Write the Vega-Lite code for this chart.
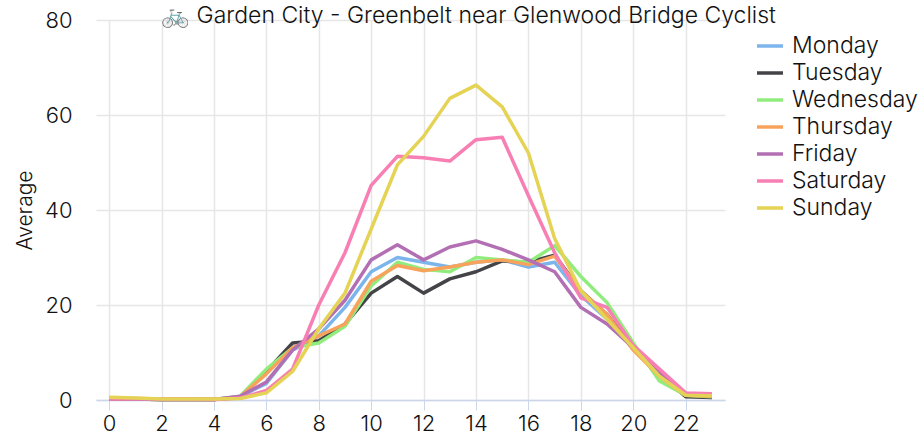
{"$schema":"https://vega.github.io/schema/vega-lite/v6.json","width":629,"height":380,"autosize":"none","padding":{"left":96,"top":20,"right":198,"bottom":35},"background":"white",
"title":{"text":"🚲 Garden City - Greenbelt near Glenwood Bridge Cyclist","font":"Inter","fontSize":23,"fontWeight":300,"color":"#111","anchor":"middle","dx":58,"offset":-30,"baseline":"middle"},
"config":{"view":{"stroke":null},"font":"Inter"},
"data":{"values":[
{"h":0,"d":"Monday","v":0.3},{"h":1,"d":"Monday","v":0.2},{"h":2,"d":"Monday","v":0.1},{"h":3,"d":"Monday","v":0.1},{"h":4,"d":"Monday","v":0.1},{"h":5,"d":"Monday","v":0.7},{"h":6,"d":"Monday","v":3.5},{"h":7,"d":"Monday","v":10.5},{"h":8,"d":"Monday","v":13.5},{"h":9,"d":"Monday","v":19.5},{"h":10,"d":"Monday","v":27},{"h":11,"d":"Monday","v":30},{"h":12,"d":"Monday","v":29},{"h":13,"d":"Monday","v":28},{"h":14,"d":"Monday","v":29},{"h":15,"d":"Monday","v":29.5},{"h":16,"d":"Monday","v":28},{"h":17,"d":"Monday","v":29},{"h":18,"d":"Monday","v":22},{"h":19,"d":"Monday","v":17},{"h":20,"d":"Monday","v":11},{"h":21,"d":"Monday","v":5},{"h":22,"d":"Monday","v":1},{"h":23,"d":"Monday","v":0.5},
{"h":0,"d":"Tuesday","v":0.2},{"h":1,"d":"Tuesday","v":0.2},{"h":2,"d":"Tuesday","v":0.1},{"h":3,"d":"Tuesday","v":0.1},{"h":4,"d":"Tuesday","v":0.1},{"h":5,"d":"Tuesday","v":0.5},{"h":6,"d":"Tuesday","v":6},{"h":7,"d":"Tuesday","v":12},{"h":8,"d":"Tuesday","v":12.5},{"h":9,"d":"Tuesday","v":16},{"h":10,"d":"Tuesday","v":22.5},{"h":11,"d":"Tuesday","v":26},{"h":12,"d":"Tuesday","v":22.5},{"h":13,"d":"Tuesday","v":25.5},{"h":14,"d":"Tuesday","v":27},{"h":15,"d":"Tuesday","v":29.3},{"h":16,"d":"Tuesday","v":29},{"h":17,"d":"Tuesday","v":30.5},{"h":18,"d":"Tuesday","v":23},{"h":19,"d":"Tuesday","v":18},{"h":20,"d":"Tuesday","v":11},{"h":21,"d":"Tuesday","v":5.5},{"h":22,"d":"Tuesday","v":0.7},{"h":23,"d":"Tuesday","v":0.5},
{"h":0,"d":"Wednesday","v":0.2},{"h":1,"d":"Wednesday","v":0.2},{"h":2,"d":"Wednesday","v":0.1},{"h":3,"d":"Wednesday","v":0.1},{"h":4,"d":"Wednesday","v":0.1},{"h":5,"d":"Wednesday","v":0.8},{"h":6,"d":"Wednesday","v":6.5},{"h":7,"d":"Wednesday","v":11},{"h":8,"d":"Wednesday","v":12},{"h":9,"d":"Wednesday","v":15.5},{"h":10,"d":"Wednesday","v":24},{"h":11,"d":"Wednesday","v":29},{"h":12,"d":"Wednesday","v":27.5},{"h":13,"d":"Wednesday","v":27},{"h":14,"d":"Wednesday","v":30},{"h":15,"d":"Wednesday","v":29.5},{"h":16,"d":"Wednesday","v":29},{"h":17,"d":"Wednesday","v":32.5},{"h":18,"d":"Wednesday","v":26},{"h":19,"d":"Wednesday","v":20.5},{"h":20,"d":"Wednesday","v":12},{"h":21,"d":"Wednesday","v":4},{"h":22,"d":"Wednesday","v":1},{"h":23,"d":"Wednesday","v":0.7},
{"h":0,"d":"Thursday","v":0.2},{"h":1,"d":"Thursday","v":0.2},{"h":2,"d":"Thursday","v":0.1},{"h":3,"d":"Thursday","v":0.1},{"h":4,"d":"Thursday","v":0.1},{"h":5,"d":"Thursday","v":0.7},{"h":6,"d":"Thursday","v":5.5},{"h":7,"d":"Thursday","v":11},{"h":8,"d":"Thursday","v":13.5},{"h":9,"d":"Thursday","v":16},{"h":10,"d":"Thursday","v":25},{"h":11,"d":"Thursday","v":28.3},{"h":12,"d":"Thursday","v":27.2},{"h":13,"d":"Thursday","v":28},{"h":14,"d":"Thursday","v":29},{"h":15,"d":"Thursday","v":29.5},{"h":16,"d":"Thursday","v":28.5},{"h":17,"d":"Thursday","v":30.3},{"h":18,"d":"Thursday","v":23},{"h":19,"d":"Thursday","v":18},{"h":20,"d":"Thursday","v":10.5},{"h":21,"d":"Thursday","v":5},{"h":22,"d":"Thursday","v":1},{"h":23,"d":"Thursday","v":0.8},
{"h":0,"d":"Friday","v":0.2},{"h":1,"d":"Friday","v":0.2},{"h":2,"d":"Friday","v":0.1},{"h":3,"d":"Friday","v":0.1},{"h":4,"d":"Friday","v":0.1},{"h":5,"d":"Friday","v":0.8},{"h":6,"d":"Friday","v":3.8},{"h":7,"d":"Friday","v":10.5},{"h":8,"d":"Friday","v":15},{"h":9,"d":"Friday","v":21},{"h":10,"d":"Friday","v":29.5},{"h":11,"d":"Friday","v":32.7},{"h":12,"d":"Friday","v":29.5},{"h":13,"d":"Friday","v":32.2},{"h":14,"d":"Friday","v":33.5},{"h":15,"d":"Friday","v":31.7},{"h":16,"d":"Friday","v":29.5},{"h":17,"d":"Friday","v":27},{"h":18,"d":"Friday","v":19.5},{"h":19,"d":"Friday","v":16},{"h":20,"d":"Friday","v":11},{"h":21,"d":"Friday","v":6},{"h":22,"d":"Friday","v":1.2},{"h":23,"d":"Friday","v":1},
{"h":0,"d":"Saturday","v":0.2},{"h":1,"d":"Saturday","v":0.3},{"h":2,"d":"Saturday","v":0.2},{"h":3,"d":"Saturday","v":0.2},{"h":4,"d":"Saturday","v":0.1},{"h":5,"d":"Saturday","v":0.4},{"h":6,"d":"Saturday","v":2},{"h":7,"d":"Saturday","v":6.5},{"h":8,"d":"Saturday","v":20},{"h":9,"d":"Saturday","v":31},{"h":10,"d":"Saturday","v":45.2},{"h":11,"d":"Saturday","v":51.3},{"h":12,"d":"Saturday","v":51},{"h":13,"d":"Saturday","v":50.3},{"h":14,"d":"Saturday","v":54.8},{"h":15,"d":"Saturday","v":55.3},{"h":16,"d":"Saturday","v":43},{"h":17,"d":"Saturday","v":31},{"h":18,"d":"Saturday","v":21.5},{"h":19,"d":"Saturday","v":19.5},{"h":20,"d":"Saturday","v":11.5},{"h":21,"d":"Saturday","v":6.5},{"h":22,"d":"Saturday","v":1.5},{"h":23,"d":"Saturday","v":1.3},
{"h":0,"d":"Sunday","v":0.6},{"h":1,"d":"Sunday","v":0.4},{"h":2,"d":"Sunday","v":0.2},{"h":3,"d":"Sunday","v":0.2},{"h":4,"d":"Sunday","v":0.2},{"h":5,"d":"Sunday","v":0.3},{"h":6,"d":"Sunday","v":1.5},{"h":7,"d":"Sunday","v":6},{"h":8,"d":"Sunday","v":15},{"h":9,"d":"Sunday","v":22.5},{"h":10,"d":"Sunday","v":36},{"h":11,"d":"Sunday","v":49.5},{"h":12,"d":"Sunday","v":55.5},{"h":13,"d":"Sunday","v":63.5},{"h":14,"d":"Sunday","v":66.3},{"h":15,"d":"Sunday","v":61.7},{"h":16,"d":"Sunday","v":52},{"h":17,"d":"Sunday","v":34},{"h":18,"d":"Sunday","v":23},{"h":19,"d":"Sunday","v":17},{"h":20,"d":"Sunday","v":11},{"h":21,"d":"Sunday","v":5},{"h":22,"d":"Sunday","v":1},{"h":23,"d":"Sunday","v":0.9}
]},
"mark":{"type":"line","strokeWidth":3.5,"strokeJoin":"round"},
"encoding":{
"x":{"field":"h","type":"quantitative","title":null,"scale":{"domain":[-0.5,23.5],"nice":false,"zero":false},"axis":{"values":[0,2,4,6,8,10,12,14,16,18,20,22],"grid":true,"gridColor":"#e6e6e6","gridWidth":1.5,"domainColor":"#ccd6eb","domainWidth":1.5,"tickColor":"#ccd6eb","tickSize":10,"tickWidth":1,"labelFontSize":22,"labelColor":"#111","labelPadding":3,"labelFont":"Inter","labelFontWeight":300}},
"y":{"field":"v","type":"quantitative","title":"Average","scale":{"domain":[0,80],"nice":false},"axis":{"values":[0,20,40,60,80],"grid":true,"gridColor":"#e6e6e6","gridWidth":1.5,"domain":false,"ticks":false,"labelFontSize":22,"labelColor":"#111","labelPadding":24,"labelFont":"Inter","labelFontWeight":300,"titleFontSize":21,"titleFontWeight":300,"titleColor":"#111","titleFont":"Inter","titlePadding":9}},
"color":{"field":"d","type":"nominal","title":null,"sort":null,"scale":{"domain":["Monday","Tuesday","Wednesday","Thursday","Friday","Saturday","Sunday"],"range":["#7cb5ec","#434348","#90ed7d","#f7a35c","#b36fb3","#f77fb3","#e4d354"]},"legend":{"orient":"none","legendX":659,"legendY":14,"symbolType":"stroke","symbolSize":676,"symbolStrokeWidth":3.5,"labelFontSize":23,"labelColor":"#111","labelFont":"Inter","labelFontWeight":300,"rowPadding":3,"labelOffset":7,"labelLimit":200,"clipHeight":24}}
}}
